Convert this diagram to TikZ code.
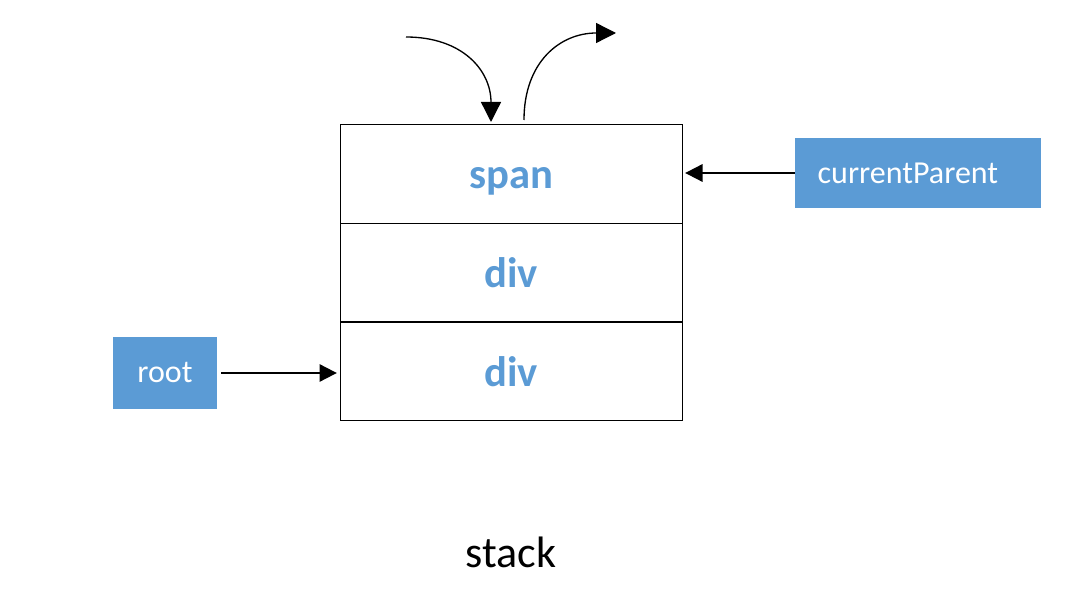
\documentclass[tikz,border=0pt]{standalone}
\usepackage{fontspec}
\setmainfont{Carlito}
\usetikzlibrary{arrows.meta}
\definecolor{accblue}{HTML}{5B9BD5}
\tikzset{
  cell/.style={draw=black, line width=0.75pt, minimum width=256.5pt, minimum height=74pt, inner sep=0pt, text height=22.5pt, text depth=0pt, text=accblue, font=\fontsize{32}{36}\selectfont\bfseries},
  tag/.style={fill=accblue, text=white, inner sep=0pt, font=\fontsize{24}{28}\selectfont},
  ptr/.style={line width=1.5pt, -{Triangle[length=13pt,width=13pt]}},
  curvy/.style={line width=1pt, -{Triangle[length=15pt,width=15pt]}}
}
\begin{document}
\begin{tikzpicture}[x=0.75pt,y=-0.75pt]
\useasboundingbox (0,0) rectangle (1076,602);
\node[cell] (r1) at (511,174) {span};
\node[cell] (r2) at (511,272.5) {div};
\node[cell] (r3) at (511,371.5) {div};
\node[tag, minimum width=184.5pt, minimum height=52.5pt, text width=184.5pt, align=left] (cp) at (918,173) {\hspace*{17pt}currentParent};
\node[tag, minimum width=78pt, minimum height=54pt] (root) at (165,373) {root};
\node[font=\fontsize{33}{38}\selectfont] (stk) at (511,552) {stack};
\coordinate (inA) at (406,37);
\coordinate (inB) at (491,122);
\coordinate (outA) at (524,120);
\coordinate (outB) at (616,33);
\draw[ptr, shorten <=3pt, shorten >=2pt] (root.east) -- (root.east -| r3.west);
\draw[ptr, shorten >=2pt] (cp.west) -- (cp.west -| r1.east);
\draw[curvy] (inA) .. controls (462,37) and (491,70) .. (inB);
\draw[curvy] (outA) .. controls (524,62) and (560,33) .. (outB);
\end{tikzpicture}
\end{document}
